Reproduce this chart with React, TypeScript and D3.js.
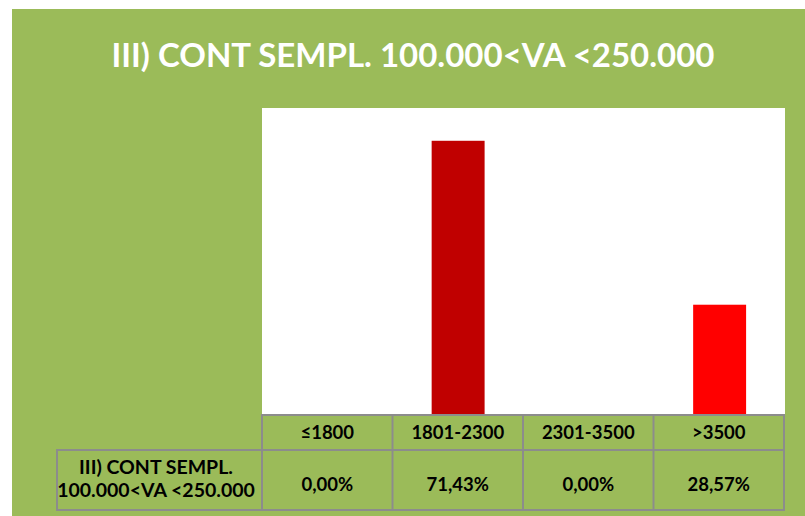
import * as d3 from 'd3';

const TITLE = 'III) CONT SEMPL. 100.000<VA <250.000';
const categories = ['≤1800', '1801-2300', '2301-3500', '>3500'];
const values = [0, 0.7143, 0, 0.2857];
const valueLabels = ['0,00%', '71,43%', '0,00%', '28,57%'];
const barColors = ['#C00000', '#C00000', '#C00000', '#FF0000'];
const rowLabel = ['III) CONT SEMPL.', '100.000<VA <250.000'];

const W = 805;
const H = 516;
const GREEN = '#9BBB59';
const BORDER = '#8C8C8C';
const FONT = 'Lato, "Open Sans", sans-serif';

const PLOT = { left: 262, right: 785, top: 108, bottom: 414 };
const TABLE = { labelLeft: 57, headTop: 415, headBottom: 450, bottom: 510 };

export default function App() {
  const x = d3.scaleBand<string>()
    .domain(categories)
    .range([PLOT.left, PLOT.right])
    .paddingInner(0.595)
    .paddingOuter(0.2975);
  const col = d3.scaleBand<string>()
    .domain(categories)
    .range([PLOT.left, PLOT.right - 1])
    .padding(0);
  const y = d3.scaleLinear().domain([0, 0.8]).range([PLOT.bottom, PLOT.top]);

  return (
    <svg width={W} height={H} style={{ position: 'absolute', left: 0, top: 0, display: 'block' }}>
      <rect x={0} y={0} width={W} height={H} fill="#fff" />
      <rect x={12} y={9} width={W - 12} height={H - 9} fill={GREEN} />

      <text
        x={413} y={67} textAnchor="middle" fill="#fff"
        fontFamily={FONT} fontWeight={700} fontSize={33}
        textLength={603} lengthAdjust="spacingAndGlyphs"
      >
        {TITLE}
      </text>

      {/* plot area */}
      <rect x={PLOT.left} y={PLOT.top} width={PLOT.right - PLOT.left} height={PLOT.bottom - PLOT.top} fill="#fff" />
      {categories.map((c, i) => values[i] > 0 && (
        <rect key={c}
          x={x(c)} y={y(values[i])}
          width={x.bandwidth()} height={y(0) - y(values[i])}
          fill={barColors[i]} />
      ))}

      {/* data table */}
      <g fill="none" stroke={BORDER} strokeWidth={2}>
        <rect x={col(categories[0])} y={TABLE.headTop}
          width={col.step() * categories.length} height={TABLE.bottom - TABLE.headTop} />
        <rect x={TABLE.labelLeft} y={TABLE.headBottom}
          width={(col(categories[0]) as number) - TABLE.labelLeft} height={TABLE.bottom - TABLE.headBottom} />
        <line x1={col(categories[0])} x2={(col(categories[0]) as number) + col.step() * categories.length}
          y1={TABLE.headBottom} y2={TABLE.headBottom} />
        {categories.slice(1).map(c => (
          <line key={c} x1={col(c)} x2={col(c)} y1={TABLE.headTop} y2={TABLE.bottom} />
        ))}
      </g>
      <g fontFamily={FONT} fontWeight={700} fontSize={18.5} fill="#000" textAnchor="middle">
        {categories.map(c => (
          <text key={c} x={(col(c) as number) + col.bandwidth() / 2} y={439}>{c}</text>
        ))}
        {categories.map((c, i) => (
          <text key={c} x={(col(c) as number) + col.bandwidth() / 2} y={491}>{valueLabels[i]}</text>
        ))}
        {rowLabel.map((t, i) => (
          <text key={t} x={156} y={474 + i * 23} fontSize={19.5}>{t}</text>
        ))}
      </g>
    </svg>
  );
}
